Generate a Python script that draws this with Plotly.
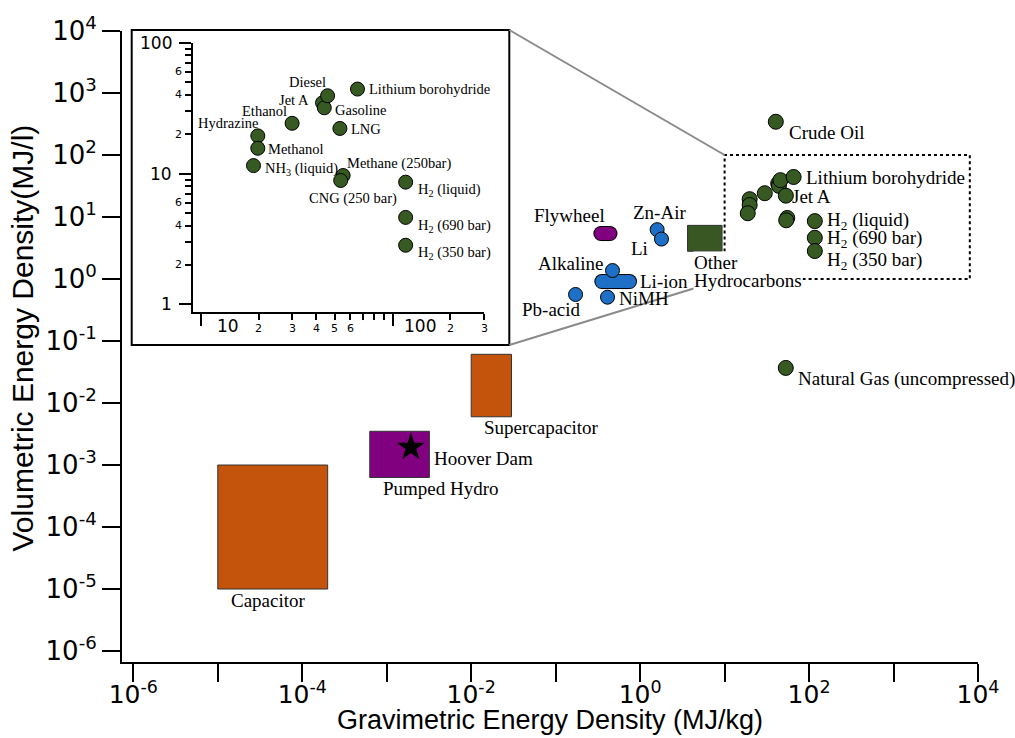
import numpy as np
import plotly.graph_objects as go

# ---------------- data (MJ/kg, MJ/l) ----------------
fuel_names = ["Hydrazine", "Methanol", "NH<sub>3</sub> (liquid)", "Ethanol", "Jet A", "Gasoline",
              "Diesel", "Lithium borohydride", "LNG", "Methane (250bar)", "CNG (250 bar)",
              "H<sub>2</sub> (liquid)", "H<sub>2</sub> (690 bar)", "H<sub>2</sub> (350 bar)"]
fuel_grav = [19.8, 19.8, 18.8, 29.9, 43.1, 44.0, 45.8, 65.6, 53.1, 55.2, 53.6, 117, 117, 117]
fuel_vol = [19.4, 15.6, 11.5, 24.2, 34.7, 31.8, 39.3, 44.2, 22.1, 9.66, 8.85, 8.59, 4.62, 2.83]

other_fuel_names = ["Crude Oil", "Natural Gas (uncompressed)"]
other_fuel_grav = [40.4, 53.0]
other_fuel_vol = [344, 0.0368]

battery_names = ["Zn-Air", "Li", "Alkaline", "NiMH", "Pb-acid"]
battery_grav = [1.59, 1.79, 0.471, 0.411, 0.172]
battery_vol = [6.25, 4.41, 1.37, 0.509, 0.563]

liion_grav = [0.352, 0.75]
liion_vol = [0.91, 0.91]
flywheel_grav = [0.343, 0.44]
flywheel_vol = [5.41, 5.41]

capacitor_grav = [1e-5, 2e-4]
capacitor_vol = [1e-5, 1e-3]
supercap_grav = [0.01, 0.03]
supercap_vol = [0.006, 0.061]
pumped_grav = [6.3e-4, 3.2e-3]
pumped_vol = [6.3e-4, 3.5e-3]
hydrocarbon_grav = [3.64, 9.33]
hydrocarbon_vol = [2.8, 7.33]
hoover_grav = [1.93e-3]
hoover_vol = [1.93e-3]
zoom_grav = [10, 8000]
zoom_vol = [1, 100]

x_tick_vals = [1e-6, 1e-5, 1e-4, 1e-3, 1e-2, 1e-1, 1e0, 1e1, 1e2, 1e3, 1e4]
x_tick_text = ["10<sup>-6</sup>", "", "10<sup>-4</sup>", "", "10<sup>-2</sup>", "",
               "10<sup>0</sup>", "", "10<sup>2</sup>", "", "10<sup>4</sup>"]
y_tick_vals = [1e-6, 1e-5, 1e-4, 1e-3, 1e-2, 1e-1, 1e0, 1e1, 1e2, 1e3, 1e4]
y_tick_text = ["10<sup>-6</sup>", "10<sup>-5</sup>", "10<sup>-4</sup>", "10<sup>-3</sup>",
               "10<sup>-2</sup>", "10<sup>-1</sup>", "10<sup>0</sup>", "10<sup>1</sup>",
               "10<sup>2</sup>", "10<sup>3</sup>", "10<sup>4</sup>"]

inset_x_major = [10, 100]
inset_x_minor = [20, 30, 40, 50, 60, 70, 80, 90, 200, 300]
inset_x_label_vals = [10, 20, 30, 40, 50, 60, 100, 200, 300]
inset_x_label_text = ["10", "2", "3", "4", "5", "6", "100", "2", "3"]
inset_y_major = [1, 10, 100]
inset_y_minor = [2, 3, 4, 5, 6, 7, 8, 9, 20, 30, 40, 50, 60, 70, 80, 90]
inset_y_label_vals = [1, 2, 4, 6, 10, 20, 40, 60, 100]
inset_y_label_text = ["1", "2", "4", "6", "10", "2", "4", "6", "100"]

# ---------------- styling ----------------
GREEN = "#375a22"
BLUE = "#1e6fc6"
PURPLE = "#800080"
ORANGE = "#c4540c"
RECT_GREEN = "#385723"
SERIF = "Liberation Serif, Times New Roman, serif"
SANS = "DejaVu Sans, sans-serif"
TITLE = "Liberation Sans, Arial, sans-serif"

XR = [-6.134, 4.0]
YR = [-6.177, 4.0]

fig = go.Figure()


def rect(gx, gy, color, xa="x", ya="y"):
    fig.add_trace(go.Scatter(
        x=[gx[0], gx[1], gx[1], gx[0], gx[0]], y=[gy[0], gy[0], gy[1], gy[1], gy[0]],
        mode="lines", fill="toself", fillcolor=color, line=dict(color="#333333", width=1),
        xaxis=xa, yaxis=ya, hoverinfo="skip", showlegend=False))


def capsule(gx, gy, color):
    fig.add_trace(go.Scatter(x=gx, y=gy, mode="lines+markers",
                             line=dict(color="black", width=15), marker=dict(size=15, color="black"),
                             hoverinfo="skip", showlegend=False))
    fig.add_trace(go.Scatter(x=gx, y=gy, mode="lines+markers",
                             line=dict(color=color, width=13), marker=dict(size=13, color=color),
                             hoverinfo="skip", showlegend=False))


rect(capacitor_grav, capacitor_vol, ORANGE)
rect(supercap_grav, supercap_vol, ORANGE)
rect(pumped_grav, pumped_vol, PURPLE)
rect(hydrocarbon_grav, hydrocarbon_vol, RECT_GREEN)

# zoom box (dotted)
fig.add_trace(go.Scatter(
    x=[zoom_grav[0], zoom_grav[1], zoom_grav[1], zoom_grav[0], zoom_grav[0]],
    y=[zoom_vol[0], zoom_vol[0], zoom_vol[1], zoom_vol[1], zoom_vol[0]],
    mode="lines", line=dict(color="black", width=2, dash="dot"), hoverinfo="skip", showlegend=False))

fig.add_trace(go.Scatter(x=hoover_grav, y=hoover_vol, mode="markers",
                         marker=dict(symbol="star", size=21, color="black"), showlegend=False))

capsule(flywheel_grav, flywheel_vol, PURPLE)
capsule(liion_grav, liion_vol, BLUE)

fig.add_trace(go.Scatter(x=battery_grav, y=battery_vol, mode="markers",
                         marker=dict(size=14, color=BLUE, line=dict(color="black", width=1)),
                         showlegend=False))

fig.add_trace(go.Scatter(x=fuel_grav + other_fuel_grav, y=fuel_vol + other_fuel_vol, mode="markers",
                         marker=dict(size=15, color=GREEN, line=dict(color="black", width=1)),
                         showlegend=False))

# inset points
fig.add_trace(go.Scatter(x=fuel_grav, y=fuel_vol, mode="markers", xaxis="x2", yaxis="y2",
                         marker=dict(size=14, color=GREEN, line=dict(color="black", width=1)),
                         showlegend=False))

# ---------------- annotations ----------------
ann = []


def lab(text, gx, gy, anchor, dx, dy, size=19, xref="x", yref="y", bg=None):
    d = dict(text=text, x=np.log10(gx), y=np.log10(gy), xref=xref, yref=yref,
             xanchor=anchor, yanchor="middle", xshift=dx, yshift=-dy, showarrow=False,
             borderpad=0, font=dict(family=SERIF, size=size, color="black"))
    if bg:
        d["bgcolor"] = bg
    ann.append(d)


fi = {n: i for i, n in enumerate(fuel_names)}
bi = {n: i for i, n in enumerate(battery_names)}

# main labels
lab("Crude Oil", other_fuel_grav[0], other_fuel_vol[0], "left", 12, 11)
lab("Natural Gas (uncompressed)", other_fuel_grav[1], other_fuel_vol[1], "left", 11, 11)
for nm, dx, dy, anc, key in [("Lithium borohydride", 11, 1, "left", "Lithium borohydride"),
                             ("Jet A", 13, 13, "left", "Jet A"),
                             ("H<sub>2</sub> (liquid)", 11, 0, "left", "H<sub>2</sub> (liquid)"),
                             ("H<sub>2</sub> (690 bar)", 11, 1, "left", "H<sub>2</sub> (690 bar)"),
                             ("H<sub>2</sub> (350 bar)", 11, 10, "left", "H<sub>2</sub> (350 bar)")]:
    lab(nm, fuel_grav[fi[key]], fuel_vol[fi[key]], anc, dx, dy)
for nm, anc, dx, dy in [("Zn-Air", "center", 2, -17), ("Li", "right", -12, 9),
                        ("Alkaline", "right", -9, -7), ("NiMH", "left", 10, 1),
                        ("Pb-acid", "right", 6, 15)]:
    lab(nm, battery_grav[bi[nm]], battery_vol[bi[nm]], anc, dx, dy)
lab("Li-ion", liion_grav[1], liion_vol[1], "left", 9, 0)
lab("Flywheel", flywheel_grav[1], flywheel_vol[1], "right", -4, -18)
lab("Other", hydrocarbon_grav[0], hydrocarbon_vol[0], "left", 5, 11, bg="white")
lab("Hydrocarbons", hydrocarbon_grav[0], hydrocarbon_vol[0], "left", 5, 29, bg="white")
lab("Supercapacitor", supercap_grav[0], supercap_vol[0], "left", 12, 11)
lab("Hoover Dam", hoover_grav[0], hoover_vol[0], "left", 22, 11)
lab("Pumped Hydro", pumped_grav[0], pumped_vol[0], "left", 12, 11)
lab("Capacitor", capacitor_grav[0], capacitor_vol[0], "left", 12, 11)

# inset labels
inset_place = {
    "Hydrazine": ("right", 1, -13), "Methanol": ("left", 9, 1),
    "NH<sub>3</sub> (liquid)": ("left", 10, 3), "Ethanol": ("right", -4, -12),
    "Jet A": ("right", -13, -3), "Gasoline": ("left", 10, 2), "Diesel": ("right", -1, -14),
    "Lithium borohydride": ("left", 11, 0), "LNG": ("left", 10, 1),
    "Methane (250bar)": ("left", 3, -12), "CNG (250 bar)": ("center", 12, 18),
    "H<sub>2</sub> (liquid)": ("left", 11, 8), "H<sub>2</sub> (690 bar)": ("left", 11, 9),
    "H<sub>2</sub> (350 bar)": ("left", 11, 8),
}
for i, nm in enumerate(fuel_names):
    anc, dx, dy = inset_place[nm]
    lab(nm, fuel_grav[i], fuel_vol[i], anc, dx, dy, size=14.5, xref="x2", yref="y2")

# inset tick labels
for v, t in zip(inset_x_label_vals, inset_x_label_text):
    major = v in inset_x_major
    ann.append(dict(text=t, x=np.log10(v), xref="x2", y=0, yref="y2 domain", xanchor="center",
                    yanchor="middle", xshift=27 if major else 0, yshift=-14 if major else -16,
                    showarrow=False, borderpad=0,
                    font=dict(family=SANS, size=17 if major else 11, color="black")))
for v, t in zip(inset_y_label_vals, inset_y_label_text):
    major = v in inset_y_major
    ann.append(dict(text=t, y=np.log10(v), yref="y2", x=0, xref="x2 domain", xanchor="right",
                    yanchor="middle", xshift=-20 if major else -10, showarrow=False, borderpad=0,
                    font=dict(family=SANS, size=17 if major else 11, color="black")))

# axis titles
ann.append(dict(text="Gravimetric Energy Density (MJ/kg)", x=0.5, y=0, xref="paper", yref="paper",
                xanchor="center", yanchor="middle", yshift=-58, showarrow=False,
                font=dict(family=TITLE, size=27, color="black")))
ann.append(dict(text="Volumetric Energy Density(MJ/l)", x=0, y=0.5, xref="paper", yref="paper",
                xanchor="center", yanchor="middle", xshift=-100, yshift=8, textangle=-90,
                showarrow=False, font=dict(family=TITLE, size=30, color="black")))

# ---------------- inset frame + connectors ----------------
W, H = 1015, 738
ML, MR, MT, MB = 122, 37, 29, 76
PW, PH = W - ML - MR, H - MT - MB


def px2paper_x(px):
    return (px - ML) / PW


def px2paper_y(py):
    return (H - MB - py) / PH


def data2paper_x(v):
    return (np.log10(v) - XR[0]) / (XR[1] - XR[0])


def data2paper_y(v):
    return (np.log10(v) - YR[0]) / (YR[1] - YR[0])


fx0, fx1 = px2paper_x(131.7), px2paper_x(509.3)
fy0, fy1 = px2paper_y(344), px2paper_y(28)

shapes = [
    dict(type="rect", xref="paper", yref="paper", x0=fx0, x1=fx1, y0=fy0, y1=fy1,
         line=dict(color="black", width=2), fillcolor="white", layer="below"),
    dict(type="line", xref="paper", yref="paper", x0=fx1, y0=fy1,
         x1=data2paper_x(zoom_grav[0]), y1=data2paper_y(zoom_vol[1]),
         line=dict(color="#8a8a8a", width=2)),
    dict(type="line", xref="paper", yref="paper", x0=fx1, y0=fy0,
         x1=data2paper_x(zoom_grav[0]), y1=data2paper_y(zoom_vol[0]),
         line=dict(color="#8a8a8a", width=2)),
]

axis_common = dict(type="log", showline=True, linecolor="black", linewidth=2, ticks="outside",
                   tickcolor="black", showgrid=False, zeroline=False, tickmode="array")

fig.update_layout(
    width=W, height=H, autosize=False,
    margin=dict(l=ML, r=MR, t=MT, b=MB, pad=0),
    paper_bgcolor="white", plot_bgcolor="white", showlegend=False,
    xaxis=dict(axis_common, range=XR, ticklen=18, tickwidth=2, tickvals=x_tick_vals,
               ticktext=x_tick_text, tickfont=dict(family=SANS, size=25, color="black"),
               ticklabelstandoff=-9, domain=[0, 1], anchor="y"),
    yaxis=dict(axis_common, range=YR, ticklen=18, tickwidth=2, tickvals=y_tick_vals,
               ticktext=y_tick_text, tickfont=dict(family=SANS, size=26, color="black"),
               domain=[0, 1], anchor="x"),
    xaxis2=dict(axis_common, range=[0.96, np.log10(300)], ticklen=12, tickwidth=2,
                tickvals=inset_x_major, ticktext=["" for _ in inset_x_major],
                minor=dict(ticks="outside", ticklen=6, tickwidth=1.5, tickcolor="black",
                           tickmode="array", tickvals=inset_x_minor, showgrid=False),
                domain=[px2paper_x(193.3), px2paper_x(484)], anchor="y2"),
    yaxis2=dict(axis_common, range=[-0.059, 2], ticklen=12, tickwidth=2,
                tickvals=inset_y_major, ticktext=["" for _ in inset_y_major],
                minor=dict(ticks="outside", ticklen=6, tickwidth=1.5, tickcolor="black",
                           tickmode="array", tickvals=inset_y_minor, showgrid=False),
                domain=[px2paper_y(311), px2paper_y(40.7)], anchor="x2"),
    annotations=ann,
    shapes=shapes,
)

fig.write_html("out.html")
